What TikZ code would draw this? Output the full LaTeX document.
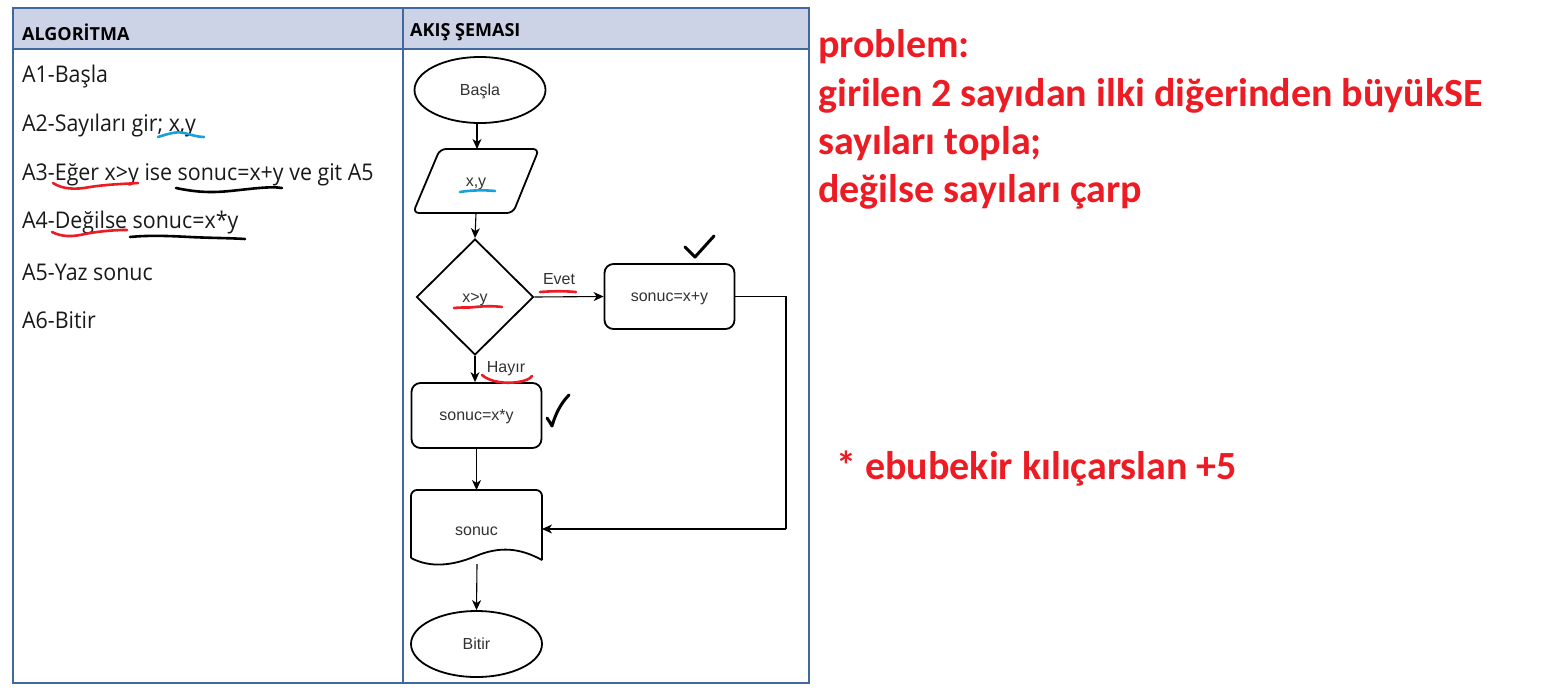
\documentclass[tikz,border=0pt]{standalone}
\usepackage{fontspec}
\usetikzlibrary{shapes.geometric,arrows.meta}
\setmainfont{Liberation Sans}
\newfontfamily\bodyfont[FakeStretch=0.93]{Open Sans}
\newfontfamily\headfont{Open Sans}
\newfontfamily\redfont{Carlito}
\newfontfamily\flowfont{Liberation Sans}
\definecolor{tblue}{RGB}{65,105,160}
\definecolor{thead}{RGB}{205,211,230}
\definecolor{mred}{RGB}{237,28,36}
\definecolor{mblue}{RGB}{20,160,225}
\definecolor{ftext}{RGB}{50,50,50}
\begin{document}
\begin{tikzpicture}[x=1pt,y=-1pt,
  shapeline/.style={draw=black,line width=1.8pt},
  conn/.style={draw=black,line width=1.1pt,-{Stealth[length=10pt,width=9pt,inset=3pt]}},
  plainconn/.style={draw=black,line width=1.1pt},
  ftxt/.style={font=\flowfont\fontsize{16}{18}\selectfont,text=ftext},
  ctxt/.style={ftxt,text height=10pt,text depth=0pt},
  algtxt/.style={anchor=west,font=\bodyfont\fontsize{23}{26}\selectfont,text=black!90,inner sep=0pt},
  hdtxt/.style={anchor=west,font=\headfont\bfseries\fontsize{18}{20}\selectfont,inner sep=0pt},
  redtxt/.style={anchor=west,font=\redfont\bfseries\fontsize{40}{44}\selectfont,text=mred,inner sep=0pt},
  pen/.style={line width=2.6pt,line cap=round,line join=round},
  term/.style={shapeline,ellipse,minimum width=131pt,minimum height=66pt,inner sep=0pt,ctxt},
  procbox/.style={shapeline,rounded corners=9pt,minimum width=130pt,minimum height=65pt,inner sep=0pt,ctxt}
]
\useasboundingbox (0,0) rectangle (1557,694);
\fill[white] (0,0) rectangle (1557,694);
% table
\fill[thead] (13,8) rectangle (809,49);
\draw[tblue,line width=1.4pt] (13,8) rectangle (809,683);
\draw[tblue,line width=1.4pt] (13,49) -- (809,49);
\draw[tblue,line width=1.4pt] (403,8) -- (403,683);
\node[hdtxt] (h1) at (22,32) {ALGORİTMA};
\node[hdtxt] (h2) at (410,32) {AKIŞ ŞEMASI};
% algorithm text
\node[algtxt] (a1) at (22,77) {A1-Başla};
\node[algtxt] (a2) at (22,126) {A2-Sayıları gir; x,y};
\node[algtxt] (a3) at (22,175) {A3-Eğer x>y ise sonuc=x+y ve git A5};
\node[algtxt] (a4) at (22,223) {A4-Değilse sonuc=x*y};
\node[algtxt] (a5) at (22,272) {A5-Yaz sonuc};
\node[algtxt] (a6) at (22,320) {A6-Bitir};
% flowchart
\node[term] (start) at (480,90) {Başla};
\node[ctxt,minimum width=100pt,minimum height=64pt,inner sep=0pt] (io) at (476,181) {x,y};
\draw[shapeline,rounded corners=6pt] (440,149) -- (539,149) -- (513,213) -- (413,213) -- cycle;
\node[shapeline,diamond,minimum width=117pt,minimum height=116pt,inner sep=0pt,ctxt] (dec) at (475,297) {x>y};
\node[procbox] (sum) at (669.5,296.5) {sonuc=x+y};
\node[procbox] (mul) at (476.5,415.5) {sonuc=x*y};
\node[ftxt,minimum width=131pt,minimum height=72pt,inner sep=0pt,anchor=north] (doc) at (476.5,490) {};
\draw[shapeline,rounded corners=6pt] (411,558) -- (411,490) -- (542,490) -- (542,560);
\draw[shapeline] (542,560) .. controls (520,548) and (500,546) .. (476,556) .. controls (452,566) and (430,568) .. (411,558);
\node[ctxt] (doctext) at (476.5,530) {sonuc};
\node[term] (stop) at (476.5,644) {Bitir};
% connectors
\draw[conn] (start.south -| 477,0) -- (477,149);
\draw[conn] (io.south -| 476,0) -- (dec.north);
\draw[conn] (dec.east) -- (sum.west);
\node[ftxt] (evet) at (559,279) {Evet};
\draw[conn] (dec.south) -- (mul.north -| dec.south);
\node[ftxt] (hayir) at (506,369) {Hayır};
\draw[conn] (mul.south) -- (doc.north);
\coordinate (docbot) at (477,564);
\draw[conn] (docbot) -- (stop.north);
\coordinate (c1) at (786,296.5);
\coordinate (c2) at (786,529);
\draw[plainconn] (sum.east) -- (c1) -- (c2);
\draw[conn] (c2) -- (542,529);
% annotations
\draw[mblue,pen] (158,137) .. controls (168,134) and (176,131) .. (184,133) .. controls (192,135) and (198,137) .. (204,137);
\draw[mred,pen] (53,183) .. controls (62,189) and (75,190) .. (90,187) .. controls (110,184) and (125,184) .. (138,183);
\draw[black,pen] (176,188) .. controls (195,192) and (210,193) .. (230,191) .. controls (250,189) and (270,186) .. (282,188);
\draw[mred,pen] (52,232) .. controls (62,237) and (72,237) .. (85,234) .. controls (100,231) and (115,230) .. (127,230);
\draw[black,pen] (130,237) .. controls (150,235) and (170,236) .. (190,237) .. controls (210,238) and (230,238) .. (245,239);
\draw[mblue,pen] (460,192) .. controls (472,190) and (485,190) .. (495,191);
\draw[mred,pen] (454,308) .. controls (462,307) and (470,308) .. (475,307) .. controls (485,306) and (495,306) .. (502,307);
\draw[mred,pen] (540,292) .. controls (552,291) and (565,291) .. (576,292);
\draw[mred,pen] (482,375) .. controls (490,382) and (505,384) .. (518,382) .. controls (525,381) and (530,379) .. (532,376);
\draw[black,line width=3pt,line cap=round,line join=round] (685,247) -- (695,257) -- (714,236);
\draw[black,line width=3pt,line cap=round,line join=round] (547,418) .. controls (549,421) and (551,424) .. (552,426) .. controls (556,412) and (562,402) .. (569,395);
% problem text
\node[redtxt] (p1) at (818,47) {problem:};
\node[redtxt] (p2) at (818,96) {girilen 2 sayıdan ilki diğerinden büyükSE};
\node[redtxt] (p3) at (818,144) {sayıları topla;};
\node[redtxt] (p4) at (818,192) {değilse sayıları çarp};
\node[redtxt] (p5) at (836,469) {* ebubekir kılıçarslan +5};
\end{tikzpicture}
\end{document}
